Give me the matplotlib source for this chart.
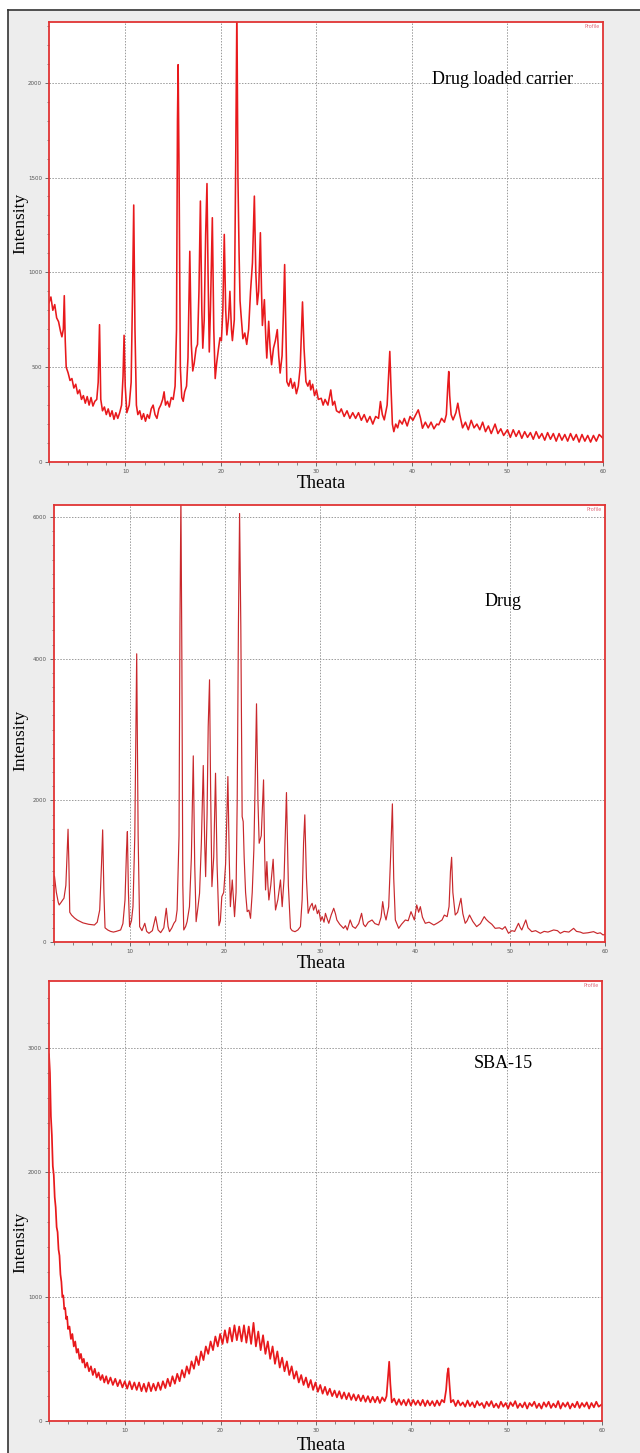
import matplotlib
matplotlib.use('Agg')
import matplotlib.pyplot as plt
from matplotlib.ticker import MultipleLocator
from matplotlib.patches import Rectangle
from matplotlib.lines import Line2D

# (theta, intensity) points

# Drug loaded carrier
carrier = [
    (2.0, 840), (2.2, 870), (2.4, 800), (2.6, 830), (2.8, 760), (3.0, 740), (3.2, 690), (3.35, 660),
    (3.5, 700), (3.6, 877), (3.7, 640), (3.8, 500), (4.0, 470), (4.2, 430), (4.4, 440), (4.6, 390),
    (4.8, 410), (5.0, 360), (5.2, 380), (5.4, 330), (5.6, 350), (5.8, 310), (6.0, 345), (6.2, 300),
    (6.4, 340), (6.6, 295), (6.8, 320), (7.0, 330), (7.15, 420), (7.29, 724), (7.42, 330), (7.6, 270),
    (7.8, 290), (8.0, 250), (8.2, 280), (8.4, 240), (8.6, 270), (8.8, 225), (9.0, 260), (9.2, 230),
    (9.4, 260), (9.6, 300), (9.75, 450), (9.86, 668), (9.98, 400), (10.15, 260), (10.4, 300),
    (10.6, 420), (10.75, 900), (10.87, 1355), (11.0, 700), (11.15, 300), (11.3, 250), (11.5, 270),
    (11.7, 225), (11.9, 255), (12.1, 215), (12.3, 250), (12.5, 230), (12.7, 280), (12.9, 300),
    (13.1, 250), (13.3, 230), (13.5, 280), (13.7, 300), (13.9, 330), (14.05, 370), (14.2, 300),
    (14.4, 320), (14.6, 290), (14.8, 340), (15.0, 330), (15.2, 400), (15.35, 700), (15.45, 1800),
    (15.52, 2095), (15.62, 1500), (15.75, 500), (15.9, 340), (16.05, 320), (16.2, 370), (16.4, 400),
    (16.55, 550), (16.74, 1111), (16.9, 620), (17.05, 480), (17.2, 520), (17.4, 600), (17.55, 620),
    (17.7, 900), (17.85, 1376), (18.0, 800), (18.1, 600), (18.25, 750), (18.4, 1200), (18.54, 1468),
    (18.65, 1000), (18.78, 580), (18.9, 800), (19.1, 1288), (19.25, 700), (19.4, 440), (19.55, 520),
    (19.75, 600), (19.9, 655), (20.05, 640), (20.2, 800), (20.35, 1200), (20.5, 800), (20.62, 670),
    (20.8, 760), (20.94, 900), (21.1, 700), (21.2, 640), (21.4, 750), (21.55, 1600), (21.67, 2400),
    (21.78, 1500), (21.9, 1100), (22.0, 850), (22.1, 780), (22.3, 650), (22.5, 680), (22.7, 620),
    (22.9, 700), (23.1, 900), (23.3, 1050), (23.5, 1402), (23.65, 1000), (23.8, 830), (23.95, 900),
    (24.13, 1209), (24.25, 900), (24.34, 720), (24.55, 856), (24.7, 650), (24.8, 548), (25.0, 742),
    (25.15, 600), (25.3, 513), (25.5, 600), (25.7, 640), (25.9, 698), (26.05, 560), (26.2, 469),
    (26.4, 560), (26.55, 800), (26.67, 1041), (26.8, 700), (26.9, 424), (27.1, 400), (27.3, 440),
    (27.5, 389), (27.7, 420), (27.9, 360), (28.1, 400), (28.3, 500), (28.54, 844), (28.7, 600),
    (28.9, 424), (29.1, 400), (29.3, 430), (29.4, 380), (29.6, 410), (29.8, 350), (30.0, 380),
    (30.2, 330), (30.5, 336), (30.7, 300), (30.9, 330), (31.2, 300), (31.5, 380), (31.7, 300),
    (31.9, 320), (32.1, 270), (32.4, 260), (32.6, 280), (32.9, 240), (33.2, 270), (33.5, 230),
    (33.8, 260), (34.1, 230), (34.4, 260), (34.7, 220), (35.0, 250), (35.3, 210), (35.6, 240),
    (35.9, 200), (36.2, 240), (36.5, 230), (36.7, 319), (36.9, 250), (37.1, 222), (37.4, 300),
    (37.55, 450), (37.68, 583), (37.8, 400), (37.95, 200), (38.1, 160), (38.3, 200), (38.5, 180),
    (38.7, 220), (38.98, 200), (39.2, 230), (39.5, 190), (39.8, 240), (40.1, 220), (40.4, 250),
    (40.66, 275), (40.9, 230), (41.1, 178), (41.4, 210), (41.7, 180), (42.0, 210), (42.3, 175),
    (42.6, 200), (42.8, 196), (43.1, 230), (43.4, 210), (43.6, 250), (43.75, 400), (43.85, 477),
    (43.95, 350), (44.1, 250), (44.3, 222), (44.6, 260), (44.8, 310), (45.0, 250), (45.3, 180),
    (45.6, 210), (45.9, 170), (46.2, 220), (46.5, 180), (46.8, 200), (47.1, 170), (47.4, 210),
    (47.7, 160), (48.0, 190), (48.3, 150), (48.7, 200), (49.0, 150), (49.3, 175), (49.6, 140),
    (50.0, 170), (50.3, 130), (50.6, 170), (50.9, 135), (51.2, 165), (51.5, 125), (51.8, 160),
    (52.1, 130), (52.4, 155), (52.7, 120), (53.0, 160), (53.3, 125), (53.6, 150), (53.9, 115),
    (54.2, 155), (54.5, 120), (54.8, 150), (55.1, 110), (55.4, 150), (55.7, 115), (56.0, 145),
    (56.3, 110), (56.6, 150), (56.9, 115), (57.2, 145), (57.5, 105), (57.8, 145), (58.1, 110),
    (58.4, 140), (58.7, 105), (59.0, 140), (59.3, 110), (59.6, 145), (60.0, 125),
]

# Drug
drug = [
    (2.0, 900), (2.1, 930), (2.3, 700), (2.5, 560), (2.6, 523), (2.8, 560), (3.0, 600), (3.1, 617),
    (3.3, 800), (3.45, 1300), (3.53, 1592), (3.62, 1100), (3.71, 420), (3.9, 380), (4.2, 340),
    (4.5, 310), (4.8, 290), (5.1, 270), (5.4, 260), (5.7, 250), (6.0, 245), (6.3, 240), (6.6, 280),
    (6.86, 452), (7.05, 1100), (7.17, 1583), (7.3, 700), (7.42, 200), (7.7, 170), (8.0, 150),
    (8.3, 140), (8.6, 150), (9.06, 170), (9.3, 260), (9.52, 593), (9.68, 1300), (9.77, 1559),
    (9.88, 700), (10.0, 217), (10.2, 300), (10.36, 500), (10.55, 1500), (10.75, 4069), (10.9, 1500),
    (11.06, 217), (11.3, 160), (11.6, 264), (11.8, 150), (12.04, 123), (12.4, 160), (12.74, 358),
    (13.0, 170), (13.27, 132), (13.6, 200), (13.86, 476), (14.05, 220), (14.2, 146), (14.45, 200),
    (14.66, 264), (14.85, 300), (15.0, 452), (15.2, 1500), (15.3, 4500), (15.4, 6300), (15.5, 4000),
    (15.6, 800), (15.7, 170), (15.9, 220), (16.05, 287), (16.3, 500), (16.5, 1200), (16.7, 2628),
    (16.85, 1100), (17.0, 287), (17.2, 500), (17.36, 688), (17.55, 1400), (17.75, 2492), (17.9, 1400),
    (18.0, 923), (18.15, 1800), (18.27, 3042), (18.41, 3702), (18.52, 2200), (18.66, 782),
    (18.85, 1200), (19.04, 2383), (19.2, 1100), (19.4, 230), (19.55, 300), (19.7, 640), (19.9, 700),
    (20.1, 1100), (20.34, 2336), (20.48, 1200), (20.6, 499), (20.8, 876), (21.04, 358), (21.2, 700),
    (21.32, 2006), (21.45, 4500), (21.57, 6050), (21.7, 4455), (21.84, 1771), (21.95, 1700),
    (22.05, 1200), (22.2, 700), (22.37, 429), (22.55, 450), (22.72, 334), (22.9, 700), (23.07, 1300),
    (23.2, 2200), (23.35, 3363), (23.5, 2000), (23.63, 1394), (23.85, 1500), (24.09, 2289),
    (24.2, 1300), (24.3, 735), (24.44, 1135), (24.55, 800), (24.65, 593), (24.85, 800), (25.1, 1168),
    (25.25, 700), (25.35, 452), (25.6, 600), (25.87, 876), (26.05, 499), (26.25, 900), (26.5, 2110),
    (26.7, 800), (26.92, 193), (27.1, 160), (27.4, 146), (27.7, 170), (27.97, 217), (28.15, 600),
    (28.3, 1400), (28.43, 1795), (28.6, 900), (28.78, 405), (29.0, 500), (29.2, 546), (29.35, 450),
    (29.55, 523), (29.75, 400), (29.9, 452), (30.1, 300), (30.25, 358), (30.45, 280), (30.6, 405),
    (30.8, 320), (30.95, 264), (31.2, 380), (31.47, 476), (31.65, 400), (31.8, 311), (32.1, 250),
    (32.5, 193), (32.7, 230), (32.9, 170), (33.2, 311), (33.45, 220), (33.75, 193), (34.1, 260),
    (34.4, 405), (34.6, 250), (34.8, 217), (35.1, 280), (35.5, 311), (35.8, 260), (36.2, 240),
    (36.45, 350), (36.62, 570), (36.8, 400), (36.97, 311), (37.25, 499), (37.45, 1200), (37.64, 1950),
    (37.78, 900), (37.95, 311), (38.3, 193), (38.6, 250), (39.0, 311), (39.3, 300), (39.6, 428),
    (39.95, 311), (40.2, 523), (40.4, 420), (40.58, 499), (40.8, 350), (41.1, 264), (41.5, 280),
    (42.0, 240), (42.4, 270), (42.86, 311), (43.1, 380), (43.4, 358), (43.6, 500), (43.75, 1000),
    (43.87, 1196), (44.0, 700), (44.25, 381), (44.5, 420), (44.85, 617), (45.05, 400), (45.3, 264),
    (45.5, 300), (45.75, 381), (46.1, 290), (46.5, 217), (46.9, 260), (47.3, 358), (47.5, 320),
    (47.75, 287), (48.1, 250), (48.45, 193), (48.9, 200), (49.2, 180), (49.5, 217), (49.85, 123),
    (50.2, 160), (50.5, 150), (50.9, 264), (51.1, 200), (51.25, 170), (51.67, 311), (51.9, 200),
    (52.3, 146), (52.7, 160), (53.2, 123), (53.6, 150), (54.0, 140), (54.6, 170), (55.0, 160),
    (55.3, 123), (55.7, 150), (56.2, 140), (56.7, 193), (57.0, 150), (57.4, 140), (57.7, 123),
    (58.2, 130), (58.8, 146), (59.2, 120), (59.5, 130), (59.8, 99), (60.0, 110),
]

# SBA-15
sba = [
    (2.0, 2950), (2.1, 2800), (2.2, 2450), (2.3, 2300), (2.4, 2050), (2.5, 1980), (2.6, 1800),
    (2.7, 1720), (2.8, 1560), (2.9, 1520), (3.0, 1380), (3.1, 1330), (3.2, 1180), (3.3, 1120),
    (3.4, 1000), (3.5, 1010), (3.6, 900), (3.7, 910), (3.8, 820), (3.9, 840), (4.0, 740), (4.15, 760),
    (4.3, 660), (4.45, 700), (4.6, 600), (4.75, 640), (4.9, 550), (5.05, 580), (5.2, 500), (5.35, 540),
    (5.5, 470), (5.65, 500), (5.8, 430), (6.0, 470), (6.2, 400), (6.4, 440), (6.6, 370), (6.8, 420),
    (7.0, 350), (7.2, 390), (7.4, 330), (7.6, 370), (7.8, 310), (8.0, 360), (8.2, 300), (8.45, 350),
    (8.7, 290), (8.95, 340), (9.2, 280), (9.45, 330), (9.7, 270), (9.95, 320), (10.2, 260),
    (10.45, 320), (10.7, 255), (10.95, 310), (11.2, 250), (11.45, 310), (11.7, 240), (11.95, 300),
    (12.2, 235), (12.45, 310), (12.7, 240), (12.95, 300), (13.2, 245), (13.45, 310), (13.7, 250),
    (13.95, 320), (14.2, 265), (14.45, 340), (14.7, 280), (14.95, 360), (15.2, 300), (15.45, 380),
    (15.7, 320), (15.95, 410), (16.2, 350), (16.45, 440), (16.7, 380), (16.95, 480), (17.2, 420),
    (17.45, 520), (17.7, 450), (17.95, 560), (18.2, 490), (18.45, 600), (18.7, 540), (18.95, 640),
    (19.2, 570), (19.45, 680), (19.7, 600), (19.95, 700), (20.2, 620), (20.45, 730), (20.7, 630),
    (20.95, 750), (21.2, 640), (21.45, 770), (21.7, 650), (21.95, 760), (22.2, 640), (22.45, 770),
    (22.7, 630), (22.95, 760), (23.2, 620), (23.45, 790), (23.7, 600), (23.95, 720), (24.2, 570),
    (24.45, 690), (24.7, 540), (24.95, 640), (25.2, 500), (25.45, 600), (25.7, 460), (25.95, 560),
    (26.2, 430), (26.45, 510), (26.7, 400), (26.95, 480), (27.2, 370), (27.45, 440), (27.7, 340),
    (27.95, 400), (28.2, 310), (28.45, 370), (28.7, 290), (28.95, 350), (29.2, 270), (29.45, 330),
    (29.7, 250), (29.95, 310), (30.2, 235), (30.45, 290), (30.7, 220), (30.95, 275), (31.2, 210),
    (31.45, 260), (31.7, 200), (31.95, 245), (32.2, 190), (32.45, 240), (32.7, 180), (32.95, 230),
    (33.2, 175), (33.45, 225), (33.7, 170), (33.95, 215), (34.2, 165), (34.45, 210), (34.7, 160),
    (34.95, 205), (35.2, 155), (35.45, 200), (35.7, 150), (35.95, 195), (36.2, 150), (36.45, 195),
    (36.7, 145), (36.95, 190), (37.2, 160), (37.4, 200), (37.55, 350), (37.68, 477), (37.8, 300),
    (37.95, 150), (38.2, 180), (38.45, 130), (38.7, 175), (38.95, 130), (39.2, 170), (39.45, 125),
    (39.7, 175), (39.95, 125), (40.2, 170), (40.45, 130), (40.7, 165), (40.95, 125), (41.2, 170),
    (41.45, 120), (41.7, 165), (41.95, 125), (42.2, 160), (42.45, 120), (42.7, 165), (42.95, 125),
    (43.2, 170), (43.45, 150), (43.65, 250), (43.78, 380), (43.89, 424), (44.0, 300), (44.15, 150),
    (44.4, 170), (44.65, 120), (44.9, 165), (45.15, 125), (45.4, 150), (45.65, 115), (45.9, 165),
    (46.15, 120), (46.4, 150), (46.65, 110), (46.9, 160), (47.15, 125), (47.4, 145), (47.65, 105),
    (47.9, 155), (48.15, 120), (48.4, 160), (48.65, 110), (48.9, 140), (49.15, 105), (49.4, 155),
    (49.65, 115), (49.9, 145), (50.15, 100), (50.4, 150), (50.65, 120), (50.9, 160), (51.15, 105),
    (51.4, 140), (51.65, 110), (51.9, 150), (52.15, 100), (52.4, 145), (52.65, 120), (52.9, 155),
    (53.15, 105), (53.4, 140), (53.65, 100), (53.9, 150), (54.15, 115), (54.4, 155), (54.65, 105),
    (54.9, 140), (55.15, 110), (55.4, 160), (55.65, 100), (55.9, 145), (56.15, 115), (56.4, 150),
    (56.65, 100), (56.9, 140), (57.15, 110), (57.4, 155), (57.65, 105), (57.9, 145), (58.15, 115),
    (58.4, 150), (58.65, 100), (58.9, 145), (59.15, 110), (59.4, 155), (59.65, 115), (60.0, 135),
]

labels = ['Drug loaded carrier', 'Drug', 'SBA-15']
ylims = [2320, 6170, 3540]
ymajor = [500, 2000, 1000]
yminor = [100, 200, 200]
label_pos = [(42.1, 2019), (47.3, 4804), (46.5, 2880)]
ylab_y = [0.543, 0.462, 0.407]
line_col = ['#e8191c', '#c8282c', '#e8191c']
line_w = [1.15, 0.85, 1.25]

W, H = 640, 1453
fig = plt.figure(figsize=(6.4, 14.53), dpi=100)
fig.patch.set_facecolor('white')
fig.add_artist(Rectangle((8 / W, 0), 1 - 8 / W, 1 - 10 / H, transform=fig.transFigure,
                         facecolor='#ededed', edgecolor='none', zorder=-5))
fig.add_artist(Line2D([8 / W, 1], [1 - 10 / H, 1 - 10 / H], color='#333333', lw=1.2))
fig.add_artist(Line2D([8 / W, 8 / W], [0, 1 - 10 / H], color='#333333', lw=1.2))

# axes boxes in pixels: left, top, right, bottom
boxes = [(49, 22, 603, 462), (53.5, 505, 605, 942), (49, 981, 602, 1421)]
xlab_y = [483, 964, 1445]
series = [carrier, drug, sba]

for i in range(3):
    l, t, r, b = boxes[i]
    ax = fig.add_axes([l / W, 1 - b / H, (r - l) / W, (b - t) / H])
    ax.set_facecolor('white')
    x = [p[0] for p in series[i]]
    y = [p[1] for p in series[i]]
    ax.plot(x, y, color=line_col[i], lw=line_w[i])
    ax.set_xlim(2, 60)
    ax.set_ylim(0, ylims[i])
    ax.xaxis.set_major_locator(MultipleLocator(10))
    ax.xaxis.set_minor_locator(MultipleLocator(2))
    ax.yaxis.set_major_locator(MultipleLocator(ymajor[i]))
    ax.yaxis.set_minor_locator(MultipleLocator(yminor[i]))
    ax.grid(True, which='major', color='#9a9a9a', linestyle=(0, (1.5, 1.5)), lw=0.7)
    ax.tick_params(which='major', direction='out', length=3, width=0.6, color='#555555',
                   labelsize=4, labelcolor='#555555', pad=2)
    ax.tick_params(which='minor', direction='out', length=1.8, width=0.5, color='#555555')
    for s in ax.spines.values():
        s.set_color('#e03434')
        s.set_linewidth(1.3)
    ax.set_ylabel('Intensity', family='Liberation Serif', fontsize=12.5)
    ax.yaxis.set_label_coords(-(l - 28) / (r - l), ylab_y[i])
    ax.text(label_pos[i][0], label_pos[i][1], labels[i], family='Liberation Serif',
            fontsize=13, ha='left', va='center')
    ax.text(0.995, 0.995, 'Profile', transform=ax.transAxes, fontsize=3.5, color='#e06a7a',
            ha='right', va='top')
    fig.text(321 / W, 1 - xlab_y[i] / H, 'Theata', family='Liberation Serif', fontsize=13,
             ha='center', va='center')

plt.savefig('out.png', dpi=100, facecolor=fig.get_facecolor())
